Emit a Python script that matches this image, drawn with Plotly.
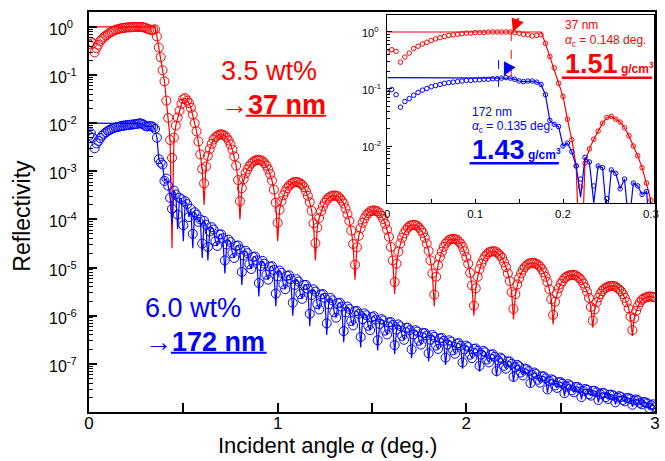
import plotly.graph_objects as go

# Incident angle grid of the measurement (deg), 0.01 deg steps from 0 to 3
angle = [round(0.01 * i, 2) for i in range(301)]

# log10 reflectivity, 3.5 wt% film (37 nm)
red_log10 = [
    -0.36, -0.31, -0.34, -0.53, -0.44, -0.37, -0.29, -0.25, -0.21, -0.18,
    -0.15, -0.12, -0.10, -0.08, -0.06, -0.05, -0.04, -0.03, -0.02, -0.02,
    -0.01, -0.01, -0.01, 0.00, 0.00, 0.00, 0.00, 0.00, 0.00, -0.01,
    -0.02, -0.04, -0.05, -0.07, -0.06, -0.05, -0.20, -0.43, -0.63, -0.90,
    -1.13, -1.53, -1.89, -2.35, -2.72, -2.30, -2.05, -1.88, -1.74, -1.60,
    -1.50, -1.48, -1.53, -1.58, -1.68, -1.82, -2.00, -2.17, -2.38, -2.65,
    -2.95, -3.25, -2.90, -2.68, -2.54, -2.43, -2.34, -2.29, -2.26, -2.24,
    -2.23, -2.24, -2.26, -2.30, -2.36, -2.44, -2.55, -2.69, -2.88, -3.18,
    -3.62, -3.35, -3.16, -3.04, -2.96, -2.89, -2.84, -2.80, -2.78, -2.76,
    -2.76, -2.77, -2.79, -2.83, -2.88, -2.96, -3.06, -3.19, -3.38, -3.65,
    -4.07, -3.80, -3.62, -3.50, -3.42, -3.35, -3.30, -3.26, -3.24, -3.22,
    -3.22, -3.23, -3.25, -3.28, -3.33, -3.41, -3.51, -3.64, -3.82, -4.08,
    -4.49, -4.17, -3.97, -3.83, -3.73, -3.65, -3.59, -3.55, -3.52, -3.51,
    -3.50, -3.51, -3.52, -3.56, -3.61, -3.67, -3.77, -3.89, -4.03, -4.23,
    -4.51, -4.94, -4.58, -4.34, -4.18, -4.07, -3.98, -3.91, -3.87, -3.83,
    -3.82, -3.81, -3.82, -3.83, -3.87, -3.92, -3.99, -4.09, -4.21, -4.36,
    -4.57, -4.85, -5.30, -4.92, -4.67, -4.50, -4.38, -4.29, -4.22, -4.17,
    -4.13, -4.12, -4.11, -4.12, -4.13, -4.17, -4.22, -4.28, -4.38, -4.50,
    -4.65, -4.85, -5.12, -5.56, -5.19, -4.95, -4.78, -4.67, -4.57, -4.50,
    -4.46, -4.42, -4.41, -4.40, -4.41, -4.42, -4.46, -4.50, -4.57, -4.66,
    -4.78, -4.92, -5.11, -5.37, -5.79, -5.43, -5.19, -5.03, -4.92, -4.83,
    -4.76, -4.72, -4.68, -4.67, -4.66, -4.66, -4.68, -4.71, -4.75, -4.80,
    -4.89, -4.99, -5.12, -5.28, -5.51, -5.86, -5.55, -5.35, -5.22, -5.12,
    -5.04, -4.99, -4.95, -4.92, -4.91, -4.90, -4.90, -4.92, -4.94, -4.98,
    -5.03, -5.10, -5.19, -5.30, -5.45, -5.66, -5.98, -5.71, -5.54, -5.43,
    -5.34, -5.28, -5.22, -5.19, -5.17, -5.16, -5.15, -5.15, -5.16, -5.19,
    -5.22, -5.26, -5.33, -5.41, -5.50, -5.63, -5.82, -6.10, -5.87, -5.72,
    -5.62, -5.55, -5.49, -5.44, -5.42, -5.40, -5.38, -5.38, -5.38, -5.39,
    -5.42, -5.45, -5.49, -5.55, -5.63, -5.72, -5.85, -6.02, -6.30, -6.05,
    -5.90, -5.80, -5.72, -5.67, -5.64, -5.62, -5.61, -5.60, -5.60, -5.61,
    -5.62,
]

# log10 reflectivity, 6.0 wt% film (172 nm), offset by 10^-2 for display
blue_log10 = [
    -2.26, -2.21, -2.30, -2.52, -2.42, -2.37, -2.31, -2.26, -2.22, -2.19,
    -2.16, -2.14, -2.12, -2.10, -2.09, -2.08, -2.07, -2.06, -2.05, -2.05,
    -2.04, -2.04, -2.03, -2.03, -2.02, -2.02, -2.01, -2.00, -2.01, -2.03,
    -2.06, -2.07, -2.06, -2.06, -2.08, -2.12, -2.30, -2.75, -2.82, -2.86,
    -3.20, -3.15, -3.30, -3.55, -3.78, -3.40, -3.48, -3.90, -3.55, -3.58,
    -4.12, -3.62, -3.68, -3.95, -3.78, -4.30, -3.85, -3.90, -4.05, -4.00,
    -4.50, -4.03, -4.11, -4.57, -4.25, -4.16, -4.21, -4.45, -4.55, -4.31,
    -4.31, -4.39, -4.85, -4.52, -4.42, -4.47, -4.70, -4.80, -4.55, -4.54,
    -4.62, -5.09, -4.75, -4.65, -4.70, -4.93, -5.03, -4.78, -4.77, -4.85,
    -5.32, -4.97, -4.86, -4.92, -5.15, -5.25, -4.98, -4.97, -5.05, -5.54,
    -5.18, -5.06, -5.11, -5.35, -5.45, -5.17, -5.16, -5.24, -5.73, -5.36,
    -5.24, -5.29, -5.55, -5.65, -5.36, -5.36, -5.44, -5.96, -5.57, -5.45,
    -5.50, -5.76, -5.87, -5.56, -5.55, -5.63, -6.16, -5.76, -5.63, -5.68,
    -5.93, -6.04, -5.74, -5.73, -5.81, -6.32, -5.93, -5.81, -5.86, -6.11,
    -6.20, -5.91, -5.90, -5.96, -6.44, -6.07, -5.95, -5.99, -6.21, -6.30,
    -6.03, -6.01, -6.08, -6.51, -6.17, -6.07, -6.10, -6.31, -6.39, -6.14,
    -6.13, -6.19, -6.61, -6.29, -6.18, -6.22, -6.42, -6.50, -6.25, -6.25,
    -6.30, -6.70, -6.39, -6.30, -6.33, -6.52, -6.60, -6.36, -6.36, -6.41,
    -6.78, -6.50, -6.40, -6.44, -6.62, -6.69, -6.47, -6.46, -6.52, -6.87,
    -6.60, -6.51, -6.54, -6.72, -6.79, -6.58, -6.57, -6.62, -6.97, -6.70,
    -6.62, -6.65, -6.81, -6.88, -6.69, -6.68, -6.73, -7.04, -6.81, -6.73,
    -6.76, -6.91, -6.97, -6.81, -6.80, -6.85, -7.15, -6.93, -6.87, -6.90,
    -7.04, -7.10, -6.95, -6.95, -7.00, -7.27, -7.07, -7.02, -7.05, -7.18,
    -7.24, -7.10, -7.11, -7.15, -7.40, -7.23, -7.18, -7.21, -7.33, -7.39,
    -7.26, -7.26, -7.30, -7.53, -7.36, -7.32, -7.34, -7.45, -7.50, -7.38,
    -7.38, -7.41, -7.61, -7.47, -7.42, -7.45, -7.55, -7.59, -7.48, -7.48,
    -7.51, -7.69, -7.56, -7.52, -7.54, -7.63, -7.66, -7.56, -7.56, -7.59,
    -7.75, -7.63, -7.60, -7.61, -7.69, -7.73, -7.64, -7.64, -7.66, -7.80,
    -7.70, -7.67, -7.69, -7.75, -7.78, -7.71, -7.71, -7.73, -7.85, -7.76,
    -7.74, -7.76, -7.81, -7.84, -7.79, -7.80, -7.82, -7.92, -7.86, -7.84,
    -7.90,
]

# Simulated (fit) curves: total reflection plateau below the edge,
# and deeper fringe minima than the sampled data
red_fit_plateau = {"last_index": 35, "log10": 0.00}
red_fit_minima = {44: -4.60, 61: -3.70, 80: -4.00, 100: -4.45, 120: -4.85,
                  141: -5.25, 162: -5.55, 183: -5.80, 204: -6.00, 225: -6.08,
                  246: -6.18, 267: -6.25, 288: -6.42}
blue_fit_plateau = {"last_index": 27, "log10": -2.00}
blue_fit_minima = {44: -4.10, 47: -4.20, 50: -4.45, 55: -4.60, 60: -4.80,
                   63: -4.85, 72: -5.12, 81: -5.36, 90: -5.60, 99: -5.80,
                   108: -6.00, 117: -6.22, 126: -6.40, 135: -6.55, 144: -6.66,
                   153: -6.72, 162: -6.80, 171: -6.88, 180: -6.95, 189: -7.02,
                   198: -7.10, 207: -7.16, 216: -7.26, 225: -7.37, 234: -7.48,
                   243: -7.60, 252: -7.67, 261: -7.74, 270: -7.80, 279: -7.84,
                   288: -7.89, 297: -7.95}

# Inset: first 61 samples, axis in half-angle units, 6.0 wt% curve shifted up
INSET_N = 61
BLUE_INSET_SHIFT = 1.2   # decades

# tick decades
main_decades = list(range(-7, 1))
inset_decades = [-2, -1, 0]

RED = "#ff0000"
BLUE = "#0000ff"
FONT = "Liberation Sans, Arial, Helvetica, sans-serif"


def fit_curve(data, plateau, minima):
    out = []
    for i, v in enumerate(data):
        if i <= plateau["last_index"]:
            out.append(plateau["log10"])
        else:
            out.append(minima.get(i, v))
    return out


def lin(vals, shift=0.0):
    return [10 ** (v + shift) for v in vals]


red_fit = fit_curve(red_log10, red_fit_plateau, red_fit_minima)
blue_fit = fit_curve(blue_log10, blue_fit_plateau, blue_fit_minima)

inset_x = [a / 2 for a in angle[:INSET_N]]

fig = go.Figure()

# ---- main panel ----
fig.add_trace(go.Scatter(x=angle, y=lin(red_fit), mode="lines",
                         line=dict(color=RED, width=1.2), hoverinfo="skip"))
fig.add_trace(go.Scatter(x=angle, y=lin(red_log10), mode="markers",
                         marker=dict(symbol="circle-open", size=9, color=RED,
                                     line=dict(width=1))))
fig.add_trace(go.Scatter(x=angle, y=lin(blue_fit), mode="lines",
                         line=dict(color=BLUE, width=1.2), hoverinfo="skip"))
fig.add_trace(go.Scatter(x=angle, y=lin(blue_log10), mode="markers",
                         marker=dict(symbol="circle-open", size=9, color=BLUE,
                                     line=dict(width=1))))

# ---- inset ----
fig.add_trace(go.Scatter(x=inset_x, y=lin(red_fit[:INSET_N]), mode="lines",
                         xaxis="x2", yaxis="y2",
                         line=dict(color=RED, width=1.2)))
fig.add_trace(go.Scatter(x=inset_x, y=lin(red_log10[:INSET_N]), mode="markers",
                         xaxis="x2", yaxis="y2",
                         marker=dict(symbol="circle-open", size=4.5, color=RED,
                                     line=dict(width=1))))
fig.add_trace(go.Scatter(x=inset_x, y=lin(blue_fit[:INSET_N], BLUE_INSET_SHIFT),
                         mode="lines", xaxis="x2", yaxis="y2",
                         line=dict(color=BLUE, width=1.2)))
fig.add_trace(go.Scatter(x=inset_x, y=lin(blue_log10[:INSET_N], BLUE_INSET_SHIFT),
                         mode="markers", xaxis="x2", yaxis="y2",
                         marker=dict(symbol="circle-open", size=4.5, color=BLUE,
                                     line=dict(width=1))))

main_ticks = [10.0 ** d for d in main_decades]
main_minor = [m * 10.0 ** d for d in range(-8, 1) for m in range(2, 10)]
inset_ticks = [10.0 ** d for d in inset_decades]
inset_minor = [m * 10.0 ** d for d in range(-3, 1) for m in range(2, 10)]

fig.update_layout(
    width=665, height=461,
    margin=dict(l=89, r=5, t=12, b=49),
    paper_bgcolor="white", plot_bgcolor="white",
    showlegend=False,
    font=dict(family=FONT, color="black"),
    xaxis=dict(domain=[0, 1], range=[0, 3],
               tickvals=[0, 0.5, 1, 1.5, 2, 2.5, 3],
               ticktext=["0", "", "1", "", "2", "", "3"],
               ticks="inside", ticklen=9, tickwidth=1.5, tickcolor="black",
               linewidth=2, linecolor="black", mirror=True,
               showgrid=False, zeroline=False,
               tickfont=dict(size=17), ticklabelstandoff=-5),
    yaxis=dict(type="log", range=[-8, 0.31],
               tickvals=main_ticks, showticklabels=False,
               ticks="inside", ticklen=8, tickwidth=1.5, tickcolor="black",
               minor=dict(tickvals=main_minor, ticks="inside", ticklen=4,
                          tickwidth=1, tickcolor="black"),
               linewidth=2, linecolor="black", mirror=True,
               showgrid=False, zeroline=False),
    xaxis2=dict(domain=[0.527, 0.998], anchor="y2", range=[0, 0.3034],
                tickvals=[0, 0.05, 0.1, 0.15, 0.2, 0.25, 0.3],
                ticktext=["0", "", "0.1", "", "0.2", "", "0.3"],
                ticks="inside", ticklen=4, tickwidth=1, tickcolor="black",
                linewidth=1, linecolor="black", mirror=True,
                showgrid=False, zeroline=False,
                tickfont=dict(size=11.5), ticklabelstandoff=0),
    yaxis2=dict(domain=[0.5225, 0.9925], anchor="x2", type="log",
                range=[-3, 0.298],
                tickvals=inset_ticks, showticklabels=False,
                ticks="inside", ticklen=5, tickwidth=1, tickcolor="black",
                minor=dict(tickvals=inset_minor, ticks="inside", ticklen=3,
                           tickwidth=1, tickcolor="black"),
                linewidth=1, linecolor="black", mirror=True,
                showgrid=False, zeroline=False),
)

shapes = [
    # opaque inset background (drawn beneath the inset traces only)
    dict(type="rect", xref="x2", yref="y2", x0=-0.01, x1=0.32,
         y0=1e-4, y1=10, layer="below", fillcolor="white",
         line=dict(width=0)),
    # critical-angle markers in the inset
    dict(type="line", xref="x2", yref="y2", x0=0.141, x1=0.141,
         y0=1.0, y1=10 ** -0.78, line=dict(color=RED, width=1, dash="dash")),
    dict(type="line", xref="x2", yref="y2", x0=0.1267, x1=0.1267,
         y0=10 ** -0.49, y1=10 ** -1.08, line=dict(color=BLUE, width=1, dash="dash")),
    # underlines
    dict(type="line", xref="paper", yref="paper", x0=0.2767, x1=0.4186,
         y0=0.7408, y1=0.7408, line=dict(color=RED, width=2)),
    dict(type="line", xref="paper", yref="paper", x0=0.1448, x1=0.3140,
         y0=0.1483, y1=0.1483, line=dict(color=BLUE, width=2)),
    dict(type="line", xref="paper", yref="paper", x0=0.8354, x1=0.9947,
         y0=0.8358, y1=0.8358, line=dict(color=RED, width=2.5)),
    dict(type="line", xref="paper", yref="paper", x0=0.6725, x1=0.8301,
         y0=0.6218, y1=0.6218, line=dict(color=BLUE, width=2.5)),
]
fig.update_layout(shapes=shapes)

ALPHA = "<i>α</i>"


def note(text, x, y, color, size, **kw):
    d = dict(text=text, x=x, y=y, xref="paper", yref="paper",
             xanchor="left", yanchor="middle", showarrow=False,
             font=dict(color=color, size=size, family=FONT))
    d.update(kw)
    return d


annotations = [
    note("3.5 wt%", 0.2294, 0.8525, RED, 27),
    note("→<b>37 nm</b>", 0.2294, 0.7675, RED, 27),
    note("6.0 wt%", 0.0946, 0.26, BLUE, 27),
    note("→<b>172 nm</b>", 0.0946, 0.175, BLUE, 27),
    note("37 nm", 0.8366, 0.9675, RED, 12),
    note(ALPHA + "<sub>c</sub> = 0.148 deg.", 0.8366, 0.9275, RED, 12),
    note("<b>1.51</b><b><span style='font-size:12px'> g/cm<sup>3</sup></span></b>",
         0.8366, 0.87, RED, 27),
    note("172 nm", 0.673, 0.7508, BLUE, 12),
    note(ALPHA + "<sub>c</sub> = 0.135 deg.", 0.673, 0.7133, BLUE, 12),
    note("<b>1.43</b><b><span style='font-size:12px'> g/cm<sup>3</sup></span></b>",
         0.673, 0.655, BLUE, 27),
    # axis titles
    dict(text="Reflectivity", x=-0.119, y=0.49, xref="paper", yref="paper",
         textangle=-90, showarrow=False, xanchor="center", yanchor="middle",
         font=dict(size=23, color="black", family=FONT)),
    dict(text="Incident angle " + ALPHA + " (deg.)", x=0.422, y=-0.0825,
         xref="paper", yref="paper", showarrow=False,
         xanchor="center", yanchor="middle",
         font=dict(size=22, color="black", family=FONT)),
    # arrows pointing at the critical angles
    dict(x=0.1429, y=0.0, xref="x2", yref="y2", ax=6, ay=-15, text="",
         showarrow=True, arrowhead=2, arrowsize=1.3, arrowwidth=2,
         arrowcolor=RED),
    dict(x=0.1327, y=-0.77, xref="x2", yref="y2", ax=6, ay=-12, text="",
         showarrow=True, arrowhead=2, arrowsize=1.3, arrowwidth=2,
         arrowcolor=BLUE),
]

# decade labels, left-aligned beside the log axes
for d in main_decades:
    annotations.append(dict(text="10<sup>%d</sup>" % d, x=-0.0736, y=d,
                            xref="paper", yref="y", xanchor="left",
                            yanchor="middle", showarrow=False, yshift=-1,
                            font=dict(size=16, color="black", family=FONT)))
for d in inset_decades:
    annotations.append(dict(text="10<sup>%d</sup>" % d, x=0.478, y=d,
                            xref="paper", yref="y2", xanchor="left",
                            yanchor="middle", showarrow=False,
                            font=dict(size=11, color="black", family=FONT)))

fig.update_layout(annotations=annotations)

fig.write_html("out.html")
